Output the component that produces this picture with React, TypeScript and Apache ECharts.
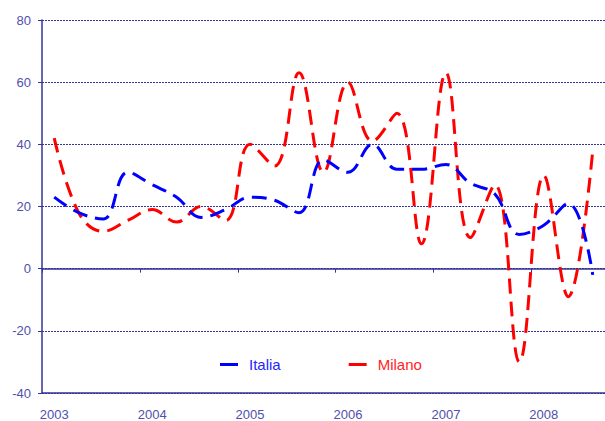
import React, { useEffect, useRef } from "react";
import * as echarts from "echarts";

const quarters = [
  "2003", "2003Q2", "2003Q3", "2003Q4",
  "2004", "2004Q2", "2004Q3", "2004Q4",
  "2005", "2005Q2", "2005Q3", "2005Q4",
  "2006", "2006Q2", "2006Q3", "2006Q4",
  "2007", "2007Q2", "2007Q3", "2007Q4",
  "2008", "2008Q2", "2008Q3",
];

const italia = [23, 18, 16, 31, 27, 23, 16.5, 19, 23, 22, 18, 35, 31, 40, 32, 32, 33.5, 27.5, 24, 11, 14, 21, -2];
const milano = [42, 18, 12, 15.5, 19, 15, 20, 15.5, 40, 33, 63, 31, 60, 41, 50, 8, 63, 10, 27, -30, 30, -9, 38];

const yTicks = { min: -40, max: 80, interval: 20 };

const axisColor = "#33339a";
const labelColor = "#5050ac";

export default function App() {
  const ref = useRef<HTMLDivElement>(null);
  useEffect(() => {
    if (!ref.current) return;
    const chart = echarts.init(ref.current, undefined, { renderer: "svg" });
    const labelFmt = (v: string) => (v.length === 4 ? v : "");
    chart.setOption({
      animation: false,
      backgroundColor: "#ffffff",
      grid: { left: 42, top: 20, width: 575, height: 376 },
      legend: {
        left: 215,
        top: 352,
        itemWidth: 18,
        itemHeight: 3,
        itemGap: 68,
        icon: "rect",
        textStyle: { fontFamily: "Liberation Sans", fontSize: 15, padding: [0, 0, 0, 6] },
        data: [
          { name: "Italia", textStyle: { color: "#2424ff" } },
          { name: "Milano", textStyle: { color: "#ff2424" } },
        ],
      },
      xAxis: [
        {
          type: "category",
          data: quarters,
          boundaryGap: true,
          position: "bottom",
          axisLine: { onZero: false, lineStyle: { color: axisColor, width: 1.5 } },
          axisTick: { show: false },
          axisLabel: {
            interval: 3,
            formatter: labelFmt,
            color: labelColor,
            fontFamily: "Liberation Sans",
            fontSize: 13,
            margin: 15,
          },
          splitLine: { show: false },
        },
        {
          type: "category",
          data: quarters,
          boundaryGap: true,
          position: "bottom",
          axisLine: { onZero: true, lineStyle: { color: axisColor, width: 1.5 } },
          axisTick: { show: true, interval: 3, length: 4, lineStyle: { color: axisColor } },
          axisLabel: { show: false },
          splitLine: { show: false },
        },
      ],
      yAxis: {
        type: "value",
        min: yTicks.min,
        max: yTicks.max,
        interval: yTicks.interval,
        axisLine: { show: true, lineStyle: { color: axisColor, width: 1.5 } },
        axisTick: { show: true, length: 4, lineStyle: { color: axisColor } },
        axisLabel: {
          color: labelColor,
          fontFamily: "Liberation Sans",
          fontSize: 13,
          margin: 11,
        },
        splitLine: { show: true, lineStyle: { color: "#34349a", type: [2, 1], width: 1 } },
      },
      series: [
        {
          name: "Italia",
          type: "line",
          xAxisIndex: 0,
          data: italia,
          smooth: 0.4,
          showSymbol: false,
          color: "#0000ff",
          lineStyle: { color: "#0000ff", width: 3, type: [15, 8] },
          z: 3,
        },
        {
          name: "Milano",
          type: "line",
          xAxisIndex: 0,
          data: milano,
          smooth: 0.4,
          showSymbol: false,
          color: "#ff0000",
          lineStyle: { color: "#ff0000", width: 3, type: [15, 8] },
          z: 2,
        },
      ],
    });
    return () => chart.dispose();
  }, []);
  return (
    <div
      ref={ref}
      style={{ position: "absolute", left: 0, top: 0, width: 605, height: 421 }}
    />
  );
}
